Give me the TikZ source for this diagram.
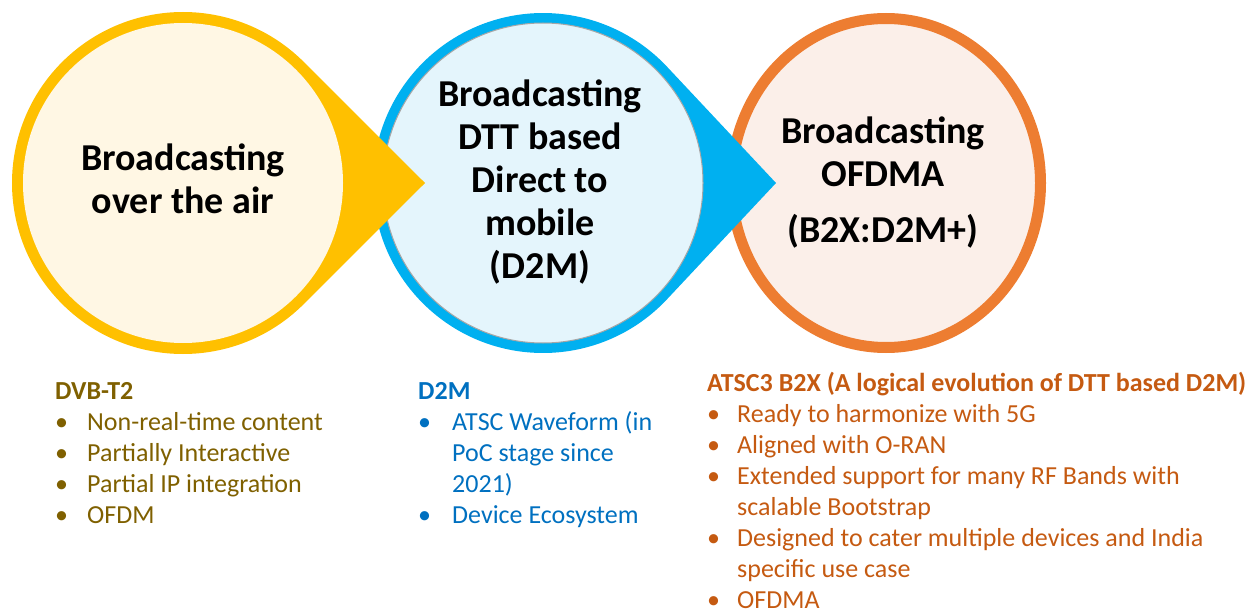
\documentclass[tikz,border=0pt]{standalone}
\usepackage{fontspec}
\setmainfont{Carlito}
\definecolor{ylw}{HTML}{FFC000}
\definecolor{ylwfill}{HTML}{FFF7E4}
\definecolor{blu}{HTML}{00B0F0}
\definecolor{blufill}{HTML}{E4F5FC}
\definecolor{org}{HTML}{ED7D31}
\definecolor{orgfill}{HTML}{FBEFE9}
\definecolor{olivetxt}{HTML}{7F6000}
\definecolor{blutxt}{HTML}{0070C0}
\definecolor{orgtxt}{HTML}{C55A11}
\newcommand\mybul[1]{\makebox[#1][l]{•}}
\newcommand\mycont[1]{\hspace*{#1}}
\tikzset{
  ctext/.style={align=center, inner sep=0pt, anchor=base, font=\fontsize{38}{43}\selectfont\bfseries, text=black},
  listtext/.style={align=left, inner sep=0pt, anchor=base west, font=\fontsize{26}{31}\selectfont}
}
\begin{document}
\begin{tikzpicture}[x=1pt,y=-1pt]
\useasboundingbox (0,0) rectangle (1256,615);
% orange circle
\draw[org, line width=11pt, fill=orgfill] (886,183) ellipse [x radius=154.5, y radius=164.5];
% blue teardrop
\fill[blu] (776,183) -- ([shift={(543,183)}]43.1:170) arc[start angle=43.1, end angle=316.9, radius=170] -- cycle;
\fill[blufill, draw=gray!70, line width=1pt] (543,183) circle[radius=160];
% yellow teardrop
\fill[ylw] (425,183) -- ([shift={(183,183)}]45:171) arc[start angle=45, end angle=315, radius=171] -- cycle;
\fill[ylwfill] (183,183) circle[radius=160];
% circle texts (anchor = baseline of last line)
\node[ctext] (c1) at (183,213) {Broadcasting\\over the air};
\node[ctext] (c2) at (540,278) {Broadcasting\\DTT based\\Direct to\\mobile\\(D2M)};
\node[ctext] (c3) at (883,242) {Broadcasting\\OFDMA\\[13pt](B2X:D2M+)};
% lists
\node[listtext, text=olivetxt] (l1) at (55,523.5) {{\bfseries DVB-T2}\\
\mybul{32pt}Non-real-time content\\
\mybul{32pt}Partially Interactive\\
\mybul{32pt}Partial IP integration\\
\mybul{32pt}OFDM};
\node[listtext, text=blutxt] (l2) at (418,523) {{\bfseries D2M}\\
\mybul{34pt}ATSC Waveform (in\\
\mycont{34pt}PoC stage since\\
\mycont{34pt}2021)\\
\mybul{34pt}Device Ecosystem};
\node[listtext, text=orgtxt] (l3) at (707,608.5) {{\bfseries ATSC3 B2X (A logical evolution of DTT based D2M)}\\
\mybul{30pt}Ready to harmonize with 5G\\
\mybul{30pt}Aligned with O-RAN\\
\mybul{30pt}Extended support for many RF Bands with\\
\mycont{30pt}scalable Bootstrap\\
\mybul{30pt}Designed to cater multiple devices and India\\
\mycont{30pt}specific use case\\
\mybul{30pt}OFDMA};
\end{tikzpicture}
\end{document}
